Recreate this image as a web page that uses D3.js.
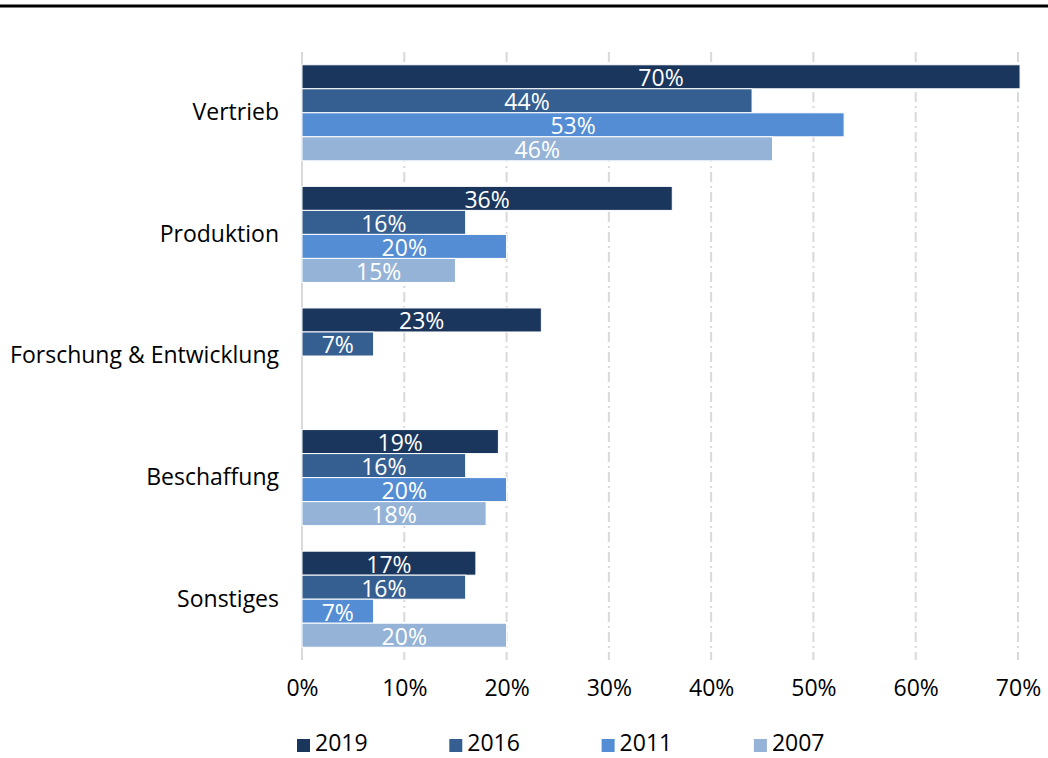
<!DOCTYPE html>
<html><head><meta charset="utf-8">
<script src="https://cdn.jsdelivr.net/npm/d3@7"></script>
<style>body{margin:0;background:#fff}svg{display:block}text{font-family:"Open Sans","DejaVu Sans",sans-serif}</style>
</head><body><svg id="c" width="1048" height="758"></svg>
<script>
const categories = ["Vertrieb","Produktion","Forschung & Entwicklung","Beschaffung","Sonstiges"];
const years = ["2019","2016","2011","2007"];
const v2019 = [70.2, 36.2, 23.4, 19.2, 17.0];
const v2016 = [44, 16, 7, 16, 16];
const v2011 = [53, 20, null, 20, 7];
const v2007 = [46, 15, null, 18, 20];
const colors = ["#1b365d","#365f91","#548dd4","#95b3d7"];
const ticks = [0,10,20,30,40,50,60,70];

const FS = 23;
const series = [v2019,v2016,v2011,v2007];
const svg = d3.select("#c");
const x = d3.scaleLinear().domain([0,70]).range([302,1018]);
const y = d3.scaleBand().domain(categories).range([52,660]).paddingInner(0.21).paddingOuter(0.105);
const yi = d3.scaleBand().domain(years).range([0,y.bandwidth()]);

svg.append("line").attr("x1",0).attr("x2",1048).attr("y1",6).attr("y2",6).attr("stroke","#000").attr("stroke-width",3);

svg.append("g").selectAll("line").data(ticks.filter(t=>t>0)).join("line")
  .attr("x1",d=>x(d)).attr("x2",d=>x(d)).attr("y1",52).attr("y2",660)
  .attr("stroke","#d9d9d9").attr("stroke-width",2).attr("stroke-dasharray","10,4,2,4");
svg.append("line").attr("x1",x(0)).attr("x2",x(0)).attr("y1",52).attr("y2",660).attr("stroke","#d9d9d9").attr("stroke-width",2);

const xa = svg.append("g").attr("transform","translate(0,660)")
  .call(d3.axisBottom(x).tickValues(ticks).tickFormat(d=>d+"%").tickSize(0).tickPadding(20));
xa.select(".domain").remove();
xa.selectAll("text").attr("font-size",FS).attr("fill","#000").style("font-family",null);

const ya = svg.append("g").attr("transform","translate(279,0)")
  .call(d3.axisLeft(y).tickSize(0).tickPadding(0));
ya.select(".domain").remove();
ya.selectAll("text").attr("font-size",FS).attr("fill","#000").style("font-family",null);

const g = svg.append("g");
series.forEach((vals,si)=>{
  const data = categories.map((c,i)=>({c,v:vals[i]})).filter(d=>d.v!=null);
  g.selectAll(null).data(data).join("rect")
    .attr("x",x(0)).attr("y",d=>y(d.c)+yi(years[si]))
    .attr("width",d=>x(d.v)-x(0)).attr("height",yi.bandwidth())
    .attr("fill",colors[si]).attr("stroke","#fff").attr("stroke-width",1);
  g.selectAll(null).data(data).join("text")
    .attr("x",d=>(x(d.v)+x(0))/2).attr("y",d=>y(d.c)+yi(years[si])+yi.bandwidth()/2)
    .attr("dy","0.41em").attr("text-anchor","middle").attr("fill","#fff").attr("font-size",FS)
    .text(d=>Math.round(d.v)+"%");
});

const lg = svg.append("g");
years.forEach((yr,i)=>{
  const lx = 297 + i*152.3;
  lg.append("rect").attr("x",lx).attr("y",739).attr("width",13).attr("height",13).attr("fill",colors[i]);
  lg.append("text").attr("x",lx+18).attr("y",743).attr("dy","0.36em").attr("font-size",FS).attr("fill","#000").text(yr);
});
</script></body></html>
